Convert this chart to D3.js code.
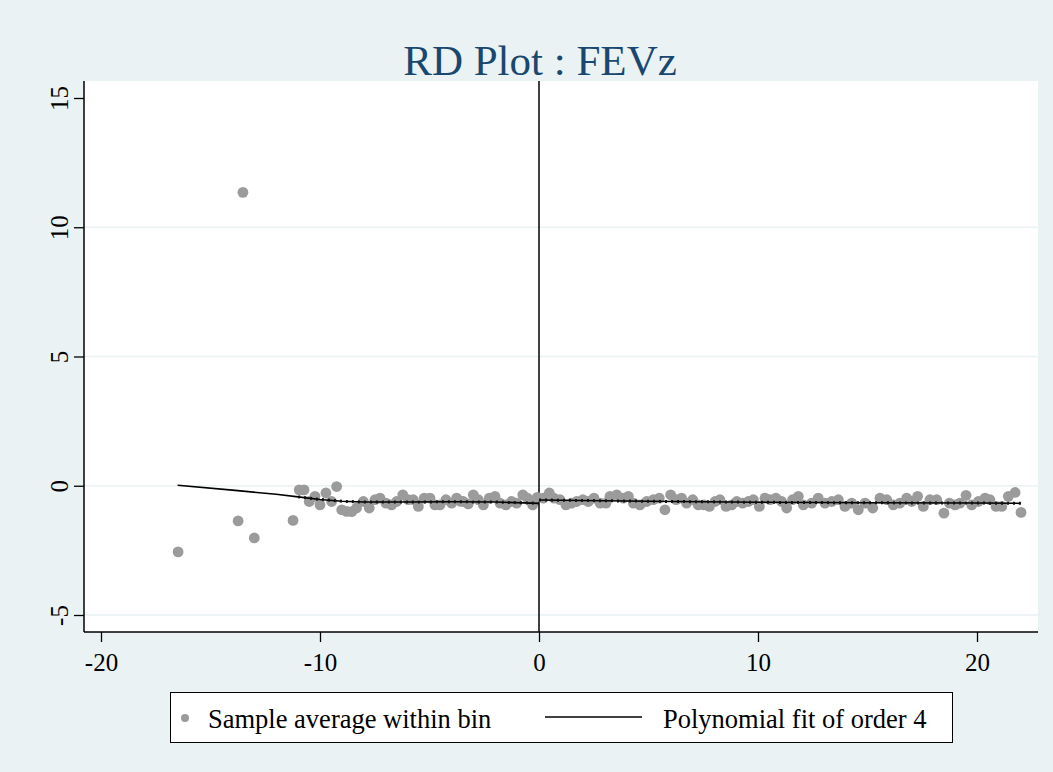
<!DOCTYPE html>
<html>
<head>
<meta charset="utf-8">
<script src="https://cdn.jsdelivr.net/npm/d3@7"></script>
<style>
  html, body { margin: 0; padding: 0; background: #eaf2f3; }
  text { font-family: "Liberation Serif", "Times New Roman", serif; }
</style>
</head>
<body>
<svg id="chart"></svg>
<script>
// bin averages (running variable, outcome)
const binX = [-16.48, -13.74, -13.52, -13.0, -11.23, -10.95, -10.73, -10.49, -10.23, -10.0,
  -9.73, -9.47, -9.24, -9.01, -8.78, -8.55, -8.33, -8.02, -7.75, -7.49,
  -7.26, -6.99, -6.73, -6.5, -6.22, -5.97, -5.74, -5.51, -5.24, -4.98,
  -4.75, -4.52, -4.25, -3.99, -3.76, -3.6, -3.46, -3.23, -3.0, -2.77,
  -2.54, -2.27, -2.01, -1.78, -1.51, -1.25, -1.02, -0.74, -0.53, -0.29,
  -0.08, 0.2, 0.47, 0.68, 0.96, 1.23, 1.49, 1.72, 2.0, 2.25,
  2.51, 2.79, 3.06, 3.24, 3.55, 3.85, 4.08, 4.31, 4.61, 4.92,
  5.22, 5.49, 5.75, 6.01, 6.26, 6.51, 6.74, 7.02, 7.27, 7.53,
  7.78, 8.04, 8.26, 8.54, 8.8, 9.03, 9.3, 9.56, 9.79, 10.06,
  10.32, 10.55, 10.82, 11.08, 11.31, 11.58, 11.84, 12.07, 12.45, 12.75,
  13.06, 13.37, 13.67, 13.97, 14.28, 14.58, 14.89, 15.24, 15.57, 15.88,
  16.18, 16.48, 16.79, 17.02, 17.29, 17.55, 17.85, 18.16, 18.49, 18.74,
  19.0, 19.22, 19.5, 19.76, 20.06, 20.37, 20.59, 20.87, 21.13, 21.43,
  21.74, 22.01];
const binY = [-2.56, -1.36, 11.35, -2.02, -1.34, -0.16, -0.16, -0.61, -0.41, -0.74,
  -0.28, -0.61, -0.03, -0.93, -0.99, -1.0, -0.86, -0.61, -0.86, -0.54,
  -0.48, -0.67, -0.74, -0.61, -0.35, -0.54, -0.54, -0.8, -0.48, -0.48,
  -0.74, -0.74, -0.54, -0.67, -0.48, -0.6, -0.61, -0.7, -0.35, -0.54,
  -0.74, -0.48, -0.41, -0.67, -0.74, -0.61, -0.67, -0.35, -0.48, -0.74,
  -0.45, -0.48, -0.28, -0.48, -0.54, -0.74, -0.67, -0.61, -0.54, -0.61,
  -0.48, -0.67, -0.67, -0.41, -0.35, -0.48, -0.41, -0.67, -0.74, -0.61,
  -0.54, -0.48, -0.93, -0.35, -0.54, -0.48, -0.67, -0.54, -0.74, -0.74,
  -0.8, -0.61, -0.54, -0.8, -0.74, -0.61, -0.67, -0.61, -0.54, -0.8,
  -0.48, -0.54, -0.48, -0.61, -0.86, -0.54, -0.41, -0.74, -0.67, -0.48,
  -0.67, -0.61, -0.54, -0.8, -0.67, -0.93, -0.67, -0.86, -0.48, -0.54,
  -0.74, -0.67, -0.48, -0.61, -0.41, -0.8, -0.54, -0.54, -1.06, -0.67,
  -0.74, -0.67, -0.37, -0.74, -0.61, -0.48, -0.54, -0.8, -0.8, -0.41,
  -0.26, -1.03];

// polynomial fit, each side of the cutoff
const fitLeftX = [-16.5, -14, -12, -11, -10, -9, -8, -6, -4, -2, 0];
const fitLeftY = [0.02, -0.17, -0.33, -0.43, -0.53, -0.6, -0.63, -0.63, -0.62, -0.63, -0.68];
const fitRightX = [0, 5, 10, 15, 20, 22];
const fitRightY = [-0.55, -0.6, -0.64, -0.66, -0.67, -0.68];

const xTicks = [-20, -10, 0, 10, 20];
const yTicks = [-5, 0, 5, 10, 15];
const gridTicks = [-5, 0, 5, 10];

const titleText = 'RD Plot : FEVz';
const legendLabels = ['Sample average within bin', 'Polynomial fit of order 4'];

class RDPlot {

    constructor( config ){
        this.config = {
            parent: config.parent,
            width: config.width || 1053,
            height: config.height || 772,
            plot: config.plot || {left: 84, right: 1038, top: 81, bottom: 632},
        }
        this.init();
    }

    init(){
        let self = this;
        const p = self.config.plot;

        self.svg = d3.select( self.config.parent )
            .attr('width', self.config.width)
            .attr('height', self.config.height)
            .style('display', 'block');

        self.svg.append('rect')
            .attr('width', self.config.width)
            .attr('height', self.config.height)
            .attr('fill', '#eaf2f3');

        self.svg.append('rect')
            .attr('x', p.left).attr('y', p.top)
            .attr('width', p.right - p.left)
            .attr('height', p.bottom - p.top)
            .attr('fill', 'white');

        self.xScale = d3.scaleLinear().domain([-20, 20]).range([101, 977]);
        self.yScale = d3.scaleLinear().domain([-5, 15]).range([615, 98]);

        self.svg.append('text')
            .attr('x', 540)
            .attr('y', 75)
            .attr('text-anchor', 'middle')
            .style('font-size', '43px')
            .attr('fill', '#1a476f')
            .text( titleText );
    }

    render(){
        let self = this;
        const p = self.config.plot;
        const x = self.xScale, y = self.yScale;
        const fmt = d => String(d);   // plain hyphen for negatives

        // grid
        self.svg.append('g').selectAll('line')
            .data(gridTicks).enter().append('line')
            .attr('x1', p.left).attr('x2', p.right)
            .attr('y1', d => y(d)).attr('y2', d => y(d))
            .attr('stroke', '#eaf2f3')
            .attr('stroke-width', 1.5);

        // axes
        const xAxis = self.svg.append('g')
            .attr('transform', `translate(0, ${p.bottom})`)
            .call(d3.axisBottom(x).tickValues(xTicks).tickFormat(fmt).tickSize(10).tickSizeOuter(0));
        xAxis.select('.domain').attr('d', `M${p.left},0H${p.right}`).attr('stroke-width', 1.5);
        xAxis.selectAll('.tick line').attr('stroke-width', 1.3);
        xAxis.selectAll('text')
            .attr('y', 39).attr('dy', null)
            .style('font-size', '25px').attr('fill', 'black');

        const yAxis = self.svg.append('g')
            .attr('transform', `translate(${p.left}, 0)`)
            .call(d3.axisLeft(y).tickValues(yTicks).tickFormat(fmt).tickSize(10).tickSizeOuter(0));
        yAxis.select('.domain').attr('d', `M0,${p.top}V${p.bottom}`).attr('stroke-width', 1.5);
        yAxis.selectAll('.tick line').attr('stroke-width', 1.3);
        yAxis.selectAll('.tick text')
            .attr('x', null).attr('dy', null)
            .attr('text-anchor', 'middle')
            .attr('transform', 'translate(-16,0) rotate(-90)')
            .style('font-size', '25px').attr('fill', 'black');

        // cutoff line
        self.svg.append('line')
            .attr('x1', x(0)).attr('x2', x(0))
            .attr('y1', p.top).attr('y2', p.bottom)
            .attr('stroke', 'black')
            .attr('stroke-width', 1.5);

        // bin averages
        const bins = binX.map((d, i) => ({x: d, y: binY[i]}));
        self.svg.append('g').selectAll('circle')
            .data(bins).enter().append('circle')
            .attr('cx', d => x(d.x))
            .attr('cy', d => y(d.y))
            .attr('r', 5.4)
            .attr('fill', '#9b9b9b');

        // fits
        const line = d3.line().x(d => x(d[0])).y(d => y(d[1]));
        const left = fitLeftX.map((d, i) => [d, fitLeftY[i]]);
        const right = fitRightX.map((d, i) => [d, fitRightY[i]]);
        [left, right].forEach(seg => {
            self.svg.append('path')
                .attr('d', line(seg))
                .attr('fill', 'none')
                .attr('stroke', 'black')
                .attr('stroke-width', 1.6);
        });
        // dotted look of the dense evaluation grid
        [left.filter(d => d[0] >= -11), right].forEach(seg => {
            self.svg.append('path')
                .attr('d', line(seg))
                .attr('fill', 'none')
                .attr('stroke', '#111')
                .attr('stroke-width', 3)
                .attr('stroke-dasharray', '2,4');
        });

        // legend
        const lg = self.svg.append('g');
        lg.append('rect')
            .attr('x', 170.5).attr('y', 692.5)
            .attr('width', 782).attr('height', 50)
            .attr('fill', 'white')
            .attr('stroke', 'black')
            .attr('stroke-width', 1);
        lg.append('circle')
            .attr('cx', 185).attr('cy', 718).attr('r', 4)
            .attr('fill', '#9b9b9b');
        lg.append('text')
            .attr('x', 208).attr('y', 728)
            .style('font-size', '26.5px')
            .text(legendLabels[0]);
        lg.append('line')
            .attr('x1', 545).attr('x2', 642)
            .attr('y1', 717).attr('y2', 717)
            .attr('stroke', 'black').attr('stroke-width', 1.6);
        lg.append('text')
            .attr('x', 663).attr('y', 728)
            .style('font-size', '26.5px')
            .text(legendLabels[1]);
    }
}

const chart = new RDPlot({ parent: '#chart', width: 1053, height: 772 });
chart.render();
</script>
</body>
</html>
